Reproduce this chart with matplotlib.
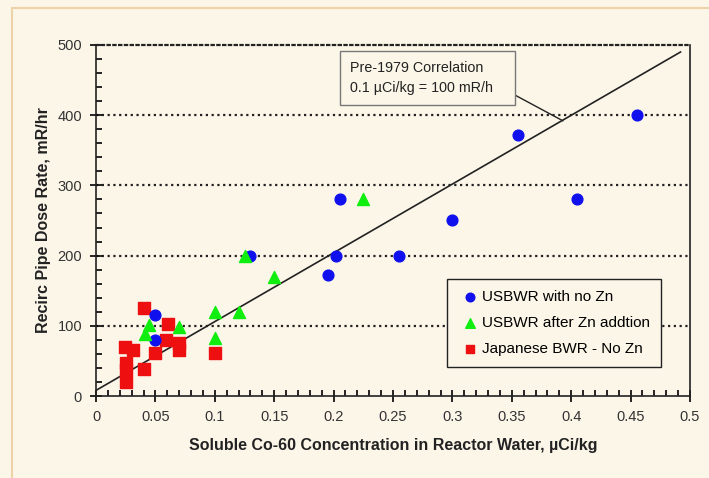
import matplotlib
matplotlib.use("Agg")
import matplotlib.pyplot as plt
from matplotlib.ticker import MultipleLocator
from matplotlib.patches import Rectangle

plt.rcParams['font.family'] = ['Liberation Sans', 'DejaVu Sans']

# Data
us_nozn_x = [0.05, 0.05, 0.13, 0.195, 0.202, 0.205, 0.255, 0.30, 0.355, 0.405, 0.455]
us_nozn_y = [115, 80, 200, 172, 200, 280, 200, 250, 372, 280, 400]

us_zn_x = [0.041, 0.045, 0.070, 0.100, 0.100, 0.120, 0.125, 0.150, 0.225]
us_zn_y = [89, 101, 99, 119, 83, 120, 200, 170, 280]

jp_x = [0.024, 0.025, 0.025, 0.025, 0.031, 0.040, 0.040, 0.050, 0.061, 0.059, 0.070, 0.070, 0.100]
jp_y = [70, 47, 37, 20, 66, 126, 39, 61, 102, 80, 76, 66, 61]

corr_x = [0.0, 0.492]
corr_y = [8, 490]

xticks = [0, 0.05, 0.1, 0.15, 0.2, 0.25, 0.3, 0.35, 0.4, 0.45, 0.5]
xticklabels = ['0', '0.05', '0.1', '0.15', '0.2', '0.25', '0.3', '0.35', '0.4', '0.45', '0.5']
yticks = [0, 100, 200, 300, 400, 500]

bg = '#fcf6e9'
fig = plt.figure(figsize=(7.09, 4.78), dpi=100, facecolor=bg)
# outer frame
fig.patches.append(Rectangle((12/709, -0.1), 1.2, 1 - 8/478 + 0.1, transform=fig.transFigure,
                             facecolor='none', edgecolor='#ecd3a8', linewidth=1.5))

ax = fig.add_axes([96/709, 1 - 396/478, 594/709, 351/478])
ax.set_facecolor(bg)

for yv in [100, 200, 300, 400]:
    ax.axhline(yv, color='#222222', linestyle=(0, (1, 1.6)), linewidth=1.6, zorder=1)

ax.plot(corr_x, corr_y, color='#222222', linewidth=1.2, zorder=2)

ax.scatter(us_nozn_x, us_nozn_y, marker='o', s=60, color='#1010ee', label='USBWR with no Zn', zorder=4)
ax.scatter(us_zn_x, us_zn_y, marker='^', s=75, color='#10ee10', label='USBWR after Zn addtion', zorder=4)
ax.scatter(jp_x, jp_y, marker='s', s=65, color='#ee1010', label='Japanese BWR - No Zn', zorder=3)

ax.set_xlim(0, 0.5)
ax.set_ylim(0, 500)
ax.set_xticks(xticks)
ax.set_xticklabels(xticklabels)
ax.set_yticks(yticks)
ax.xaxis.set_minor_locator(MultipleLocator(0.01))
ax.yaxis.set_minor_locator(MultipleLocator(20))
ax.tick_params(axis='both', which='major', direction='inout', length=8, width=1.2,
               labelsize=10.5, labelcolor='#333333', pad=6)
ax.tick_params(axis='both', which='minor', direction='in', length=4, width=1.2)

for s in ['left', 'bottom', 'right']:
    ax.spines[s].set_linewidth(1.2)
    ax.spines[s].set_color('#222222')
ax.spines['top'].set_linestyle((0, (1, 1.6)))
ax.spines['top'].set_linewidth(1.6)
ax.spines['top'].set_color('#222222')

ax.set_xlabel('Soluble Co-60 Concentration in Reactor Water, \u00b5Ci/kg',
              fontsize=11.5, fontweight='bold', color='#222222', labelpad=10)
ax.set_ylabel('Recirc Pipe Dose Rate, mR/hr', fontsize=11.5, fontweight='bold',
              color='#222222', labelpad=5)

leg = ax.legend(loc='lower right', bbox_to_anchor=(661/709, 1 - 367/478), bbox_transform=fig.transFigure,
                fontsize=11, frameon=True, fancybox=False, edgecolor='#222222', facecolor=bg,
                handletextpad=0.0, borderpad=0.7, labelspacing=0.8, markerscale=0.8,
                handlelength=1.6, borderaxespad=0)
leg.get_frame().set_linewidth(1.0)
leg.get_frame().set_alpha(1)

ax.annotate('Pre-1979 Correlation\n0.1 \u00b5Ci/kg = 100 mR/h   ', xy=(0.393, 392), xycoords='data',
            xytext=(350/709, 1 - 78/478), textcoords='figure fraction', fontsize=10.3,
            va='center', ha='left', linespacing=1.5, color='#222222',
            bbox=dict(boxstyle='square,pad=0.7', facecolor=bg, edgecolor='#777777', linewidth=1.0),
            arrowprops=dict(arrowstyle='-', color='#222222', linewidth=1.0, relpos=(1.0, 0.15),
                            shrinkA=0, shrinkB=0),
            zorder=5)

fig.savefig('out.png', dpi=100, facecolor=bg)
